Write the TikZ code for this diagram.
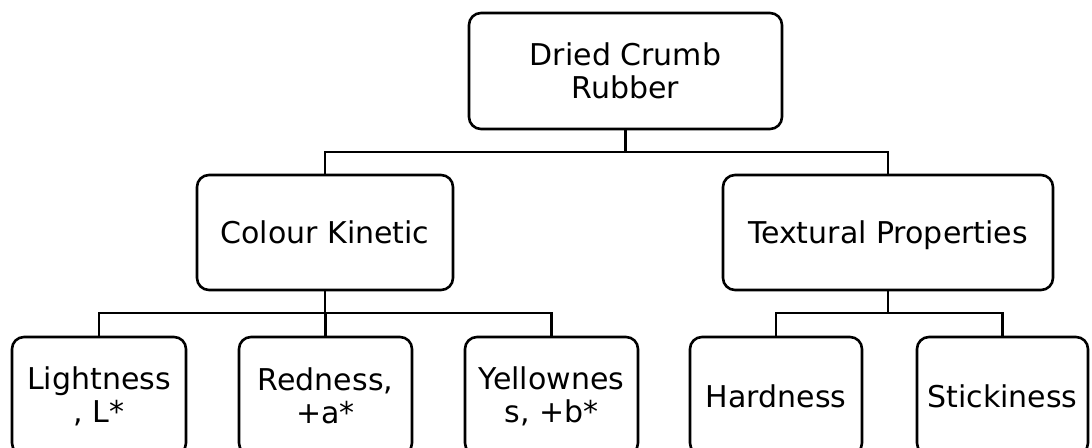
\documentclass[tikz,border=0pt]{standalone}
\usepackage{fontspec}
\setmainfont{DejaVu Sans}
\begin{document}
\begin{tikzpicture}[x=1pt,y=1pt,
  box/.style={draw=black, line width=2.6pt, rounded corners=12pt, align=center,
    inner sep=0pt, font=\fontsize{30}{33}\selectfont, text=black},
  conn/.style={draw=black, line width=2.6pt}]
\useasboundingbox (0,0) rectangle (1092,447);
\clip (0,0) rectangle (1092,447);
\node[box, minimum width=313pt, minimum height=116pt] (top) at (625.5,376) {Dried Crumb\\Rubber};
\node[box, minimum width=256pt, minimum height=115pt] (ck) at (325,214.5) {Colour Kinetic};
\node[box, minimum width=330pt, minimum height=115pt, text depth=0pt] (tp) at (888,214.5) {Textural Properties};
\node[box, minimum width=174pt, minimum height=118pt] (L) at (99,51) {Lightness\\, L*};
\node[box, minimum width=173pt, minimum height=118pt] (R) at (325.5,51) {Redness,\\+a*};
\node[box, minimum width=173pt, minimum height=118pt] (Y) at (551.5,51) {Yellownes\\s, +b*};
\node[box, minimum width=172pt, minimum height=118pt] (H) at (776,51) {Hardness};
\node[box, minimum width=171pt, minimum height=118pt] (S) at (1002.5,51) {Stickiness};
\coordinate (b1) at (0,295);
\coordinate (b2) at (0,134);
\draw[conn] (top.south) -- (top.south |- b1);
\draw[conn] (ck.north) -- (ck.north |- b1) -- (tp.north |- b1) -- (tp.north);
\draw[conn] (ck.south) -- (ck.south |- b2);
\draw[conn] (L.north) -- (L.north |- b2) -- (Y.north |- b2) -- (Y.north);
\draw[conn] (R.north) -- (R.north |- b2);
\draw[conn] (tp.south) -- (tp.south |- b2);
\draw[conn] (H.north) -- (H.north |- b2) -- (S.north |- b2) -- (S.north);
\end{tikzpicture}
\end{document}
